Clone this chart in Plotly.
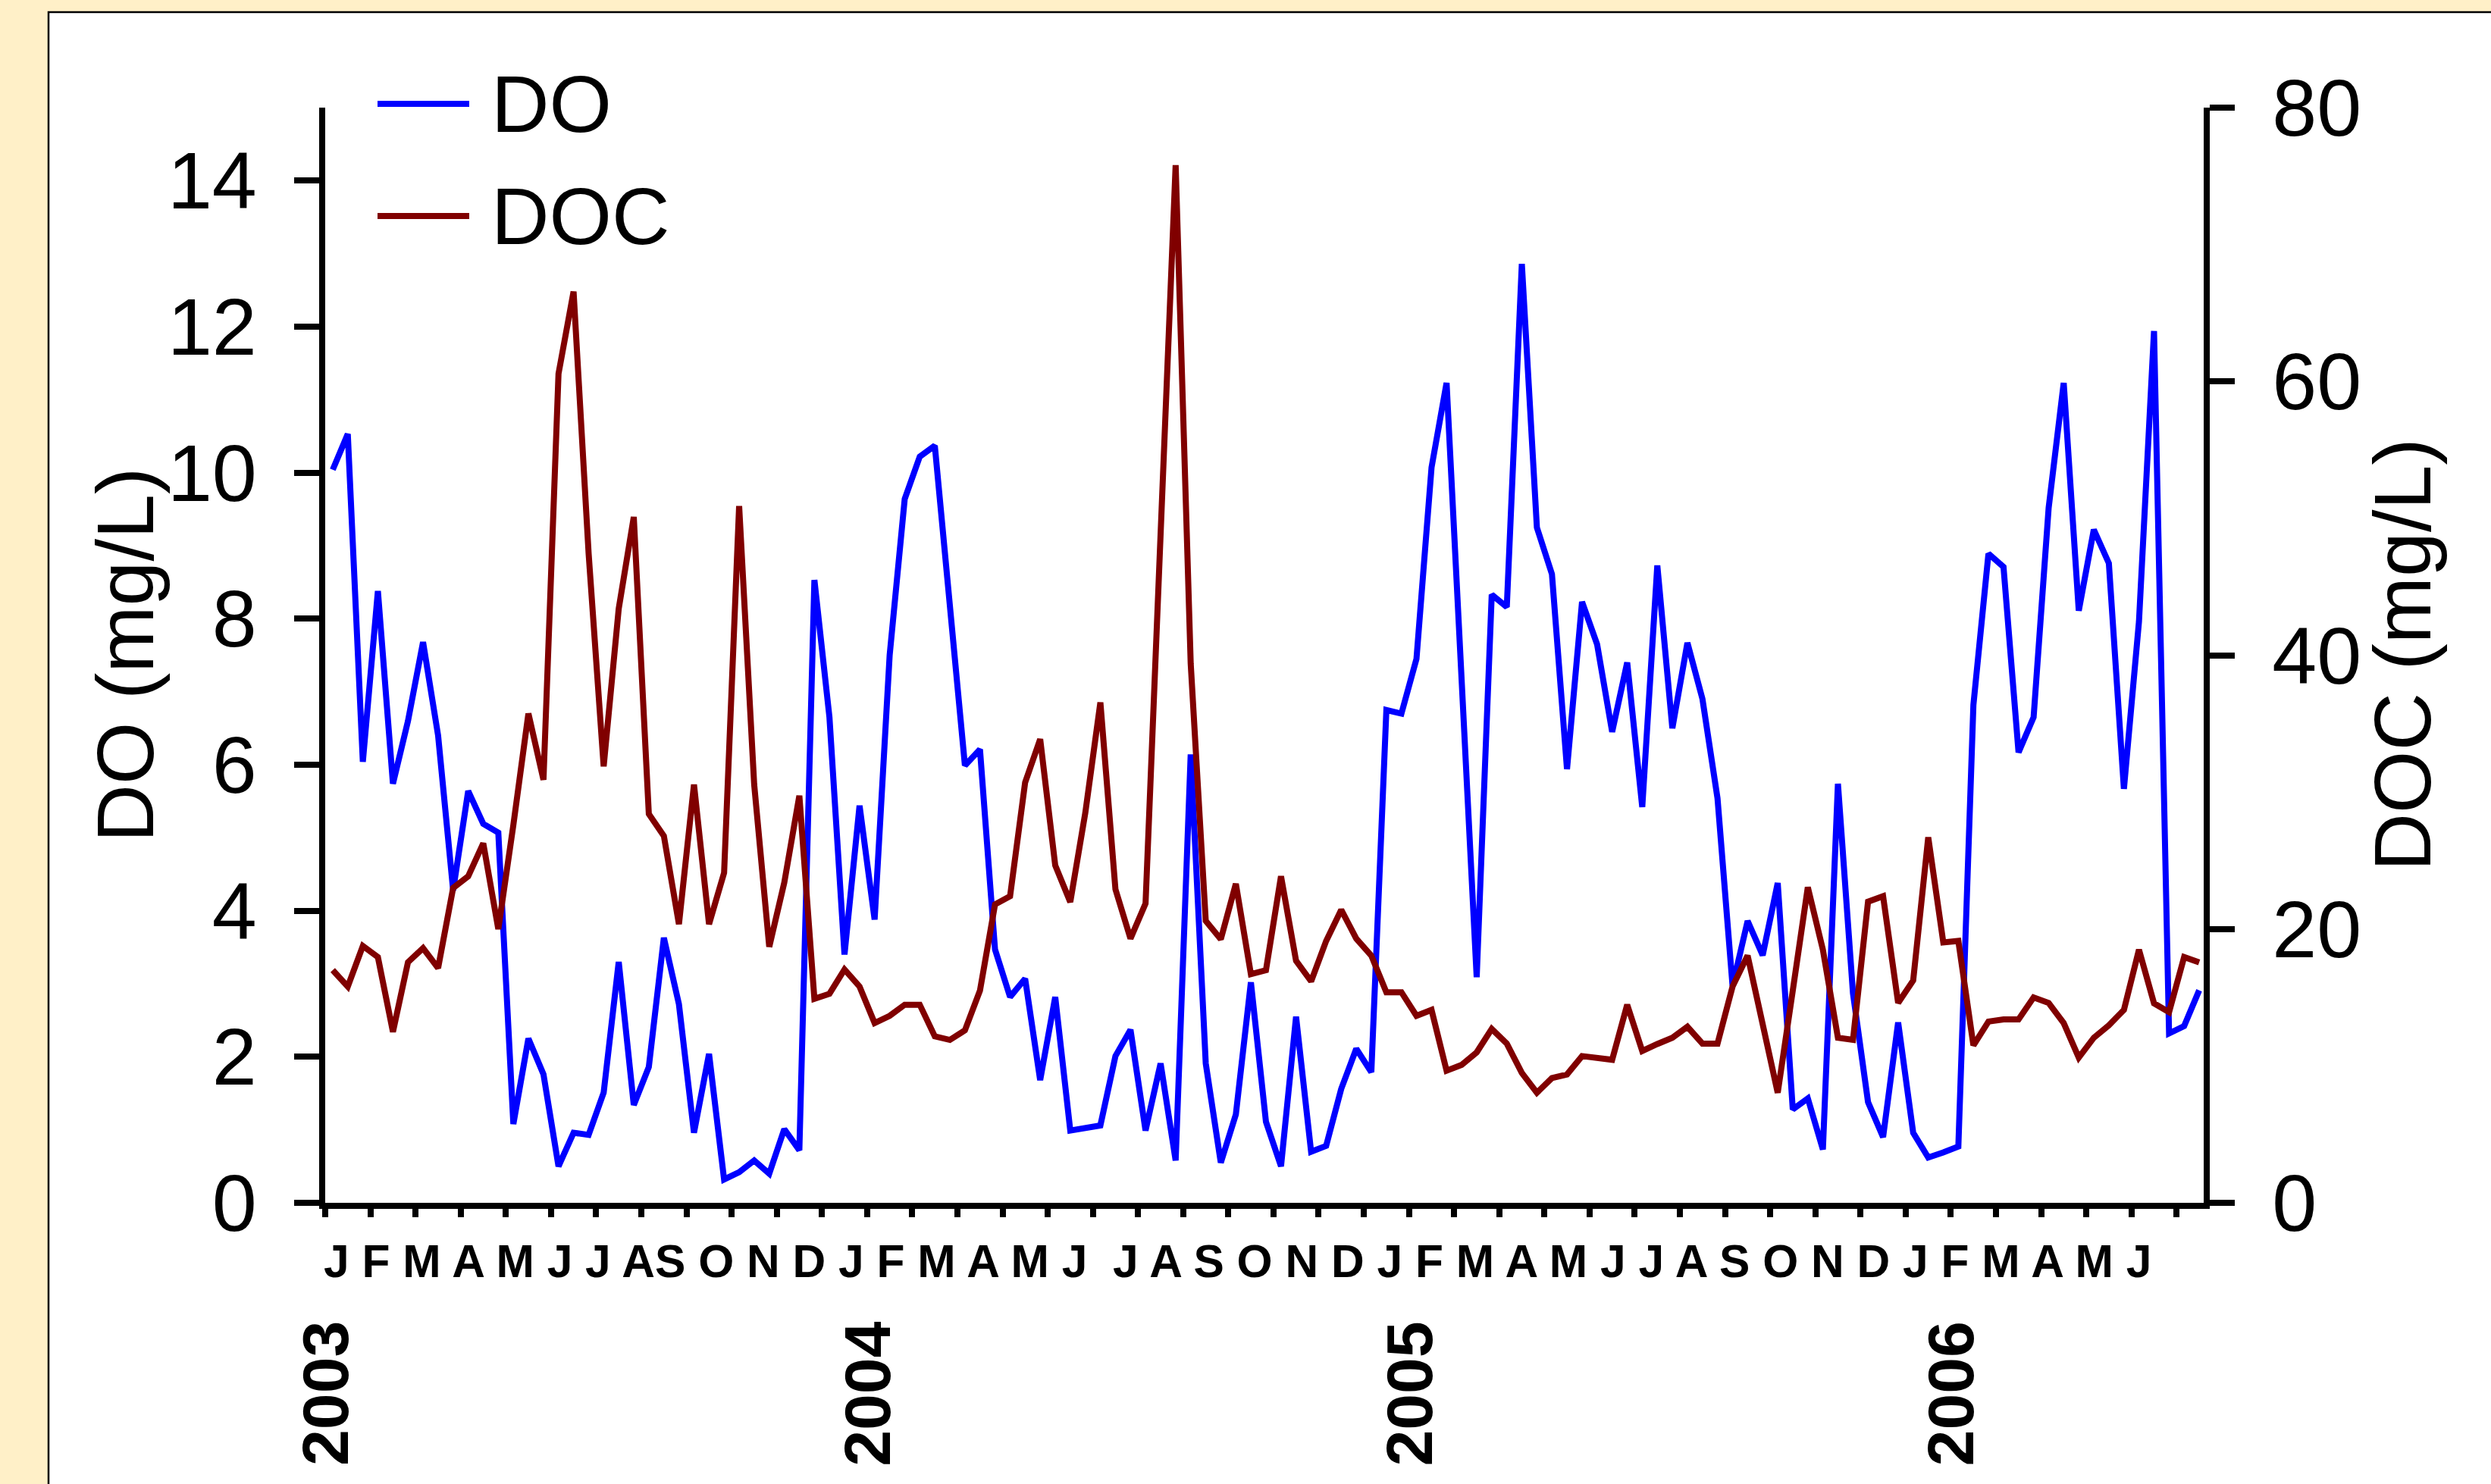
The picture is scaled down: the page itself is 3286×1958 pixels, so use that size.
import plotly.graph_objects as go

# Dissolved oxygen and dissolved organic carbon, sampled three times a month
# (dekads) from January 2003 to June 2006.
do_mg_l = [
    10.04, 10.53, 6.04, 8.38, 5.74, 6.60, 7.68, 6.40, 4.28, 5.64, 5.19, 5.07,
    1.08, 2.25, 1.76, 0.50, 0.96, 0.93, 1.51, 3.30, 1.34, 1.86, 3.63, 2.72,
    0.96, 2.04, 0.32, 0.42, 0.58, 0.40, 1.01, 0.72, 8.53, 6.65, 3.40, 5.44,
    3.88, 7.50, 9.64, 10.22, 10.37, 8.16, 5.99, 6.21, 3.47, 2.82, 3.07, 1.68,
    2.82, 0.99, 1.02, 1.06, 2.01, 2.37, 0.99, 1.91, 0.58, 6.14, 1.91, 0.55,
    1.21, 3.02, 1.11, 0.50, 2.55, 0.70, 0.78, 1.56, 2.11, 1.79, 6.75, 6.70,
    7.45, 10.07, 11.23, 7.15, 3.09, 8.33, 8.16, 12.86, 9.25, 8.61, 5.94, 8.23,
    7.65, 6.45, 7.40, 5.42, 8.73, 6.50, 7.67, 6.90, 5.54, 2.97, 3.86, 3.39,
    4.38, 1.28, 1.43, 0.73, 5.74, 2.87, 1.38, 0.90, 2.47, 0.96, 0.62, 0.69,
    0.77, 6.82, 8.89, 8.71, 6.17, 6.65, 9.52, 11.23, 8.11, 9.22, 8.76, 5.67,
    7.96, 11.94, 2.32, 2.42, 2.91,
]
doc_mg_l = [
    17.00, 15.80, 18.76, 17.95, 12.49, 17.58, 18.60, 17.15, 23.00, 23.85, 26.26, 19.99,
    27.60, 35.74, 30.90, 60.56, 66.56, 47.43, 31.88, 43.40, 50.10, 28.40, 26.80, 20.36,
    30.55, 20.36, 24.10, 50.90, 30.55, 18.70, 23.40, 29.74, 14.90, 15.27, 17.04, 15.80,
    13.13, 13.66, 14.47, 14.47, 12.16, 11.90, 12.60, 15.50, 21.80, 22.40, 30.70, 33.87,
    24.65, 21.97, 28.50, 36.55, 22.90, 19.30, 21.86, 48.80, 75.80, 39.40, 20.60, 19.25,
    23.30, 16.70, 16.99, 23.85, 17.68, 16.18, 19.13, 21.40, 19.30, 18.06, 15.38, 15.38,
    13.66, 14.09, 9.65, 10.07, 10.99, 12.70, 11.63, 9.49, 8.04, 9.11, 9.38, 10.72,
    10.60, 10.45, 14.47, 11.09, 11.60, 12.06, 12.86, 11.63, 11.63, 15.80, 18.06, 13.00,
    8.04, 15.50, 23.05, 18.49, 12.06, 11.90, 22.00, 22.40, 14.60, 16.24, 26.70, 19.02,
    19.13, 11.50, 13.24, 13.40, 13.40, 15.00, 14.60, 13.13, 10.61, 12.06, 12.97, 14.09,
    18.49, 14.57, 13.93, 17.95, 17.56,
]

years = ["2003", "2004", "2005", "2006"]
month_axis_text = (
    "J F M A M J J AS O N D "
    "J F M A M J\u00a0 J A S O N D "
    "J F M A M J J A S O N D "
    "J F M A M J"
)
do_ticks = [0, 2, 4, 6, 8, 10, 12, 14]
doc_ticks = [0, 20, 40, 60, 80]
do_title = "DO (mg/L)"
doc_title = "DOC (mg/L)"

# time axis in months since January 2003, each sample at the middle of its dekad
t_month = [(i + 0.5) / 3 for i in range(len(do_mg_l))]

W, H = 3286, 1958
L, R, T, B = 429, 379, 142, 371
PW, PH = W - L - R, H - T - B


def px(x):
    return (x - L) / PW


def py(y):
    return (H - B - y) / PH


FONT = "Liberation Sans, Arial, Helvetica, sans-serif"
BLUE = "#0000FF"
MAROON = "#800000"
LINE_W = 8

fig = go.Figure()
fig.add_trace(go.Scatter(x=t_month, y=do_mg_l, mode="lines", name="DO",
                         line=dict(color=BLUE, width=LINE_W), yaxis="y"))
fig.add_trace(go.Scatter(x=t_month, y=doc_mg_l, mode="lines", name="DOC",
                         line=dict(color=MAROON, width=LINE_W), yaxis="y2"))

axis_common = dict(
    showline=True, linewidth=8, linecolor="black", mirror=False,
    ticks="outside", tickwidth=8, tickcolor="black",
    showgrid=False, zeroline=False, automargin=False, fixedrange=True,
)

fig.update_layout(
    template="none",
    width=W, height=H,
    margin=dict(l=L, r=R, t=T, b=B, pad=0),
    paper_bgcolor="#FFF0C8",
    plot_bgcolor="rgba(0,0,0,0)",
    showlegend=False,
    font=dict(family=FONT, color="black", size=106),
    xaxis=dict(range=[0, 41.6], tickmode="linear", tick0=0, dtick=1,
               ticklen=11, showticklabels=False, **axis_common),
    yaxis=dict(range=[0, 15], tickmode="array", tickvals=do_ticks,
               ticklen=33, ticklabelstandoff=28,
               tickfont=dict(family=FONT, size=106, color="black"),
               **axis_common),
    yaxis2=dict(range=[0, 80], tickmode="array", tickvals=doc_ticks,
                overlaying="y", side="right", anchor="x",
                ticklen=33, ticklabelstandoff=28,
                tickfont=dict(family=FONT, size=106, color="black"),
                **axis_common),
)

# white panel with a thin black frame behind the chart
fig.add_shape(type="rect", xref="paper", yref="paper", layer="below",
              x0=px(64), x1=px(3320), y0=py(2000), y1=py(16),
              fillcolor="white", line=dict(color="black", width=2.5))

# vertical axis titles
for text, xpix in ((do_title, 164), (doc_title, 3168)):
    fig.add_annotation(text=text, xref="paper", yref="paper",
                       x=px(xpix), y=0.5, xanchor="center", yanchor="middle",
                       textangle=-90, showarrow=False,
                       font=dict(family=FONT, size=106, color="black"))

# legend drawn as long line samples with labels
for name, color, ypix in (("DO", BLUE, 137), ("DOC", MAROON, 285)):
    fig.add_shape(type="line", xref="paper", yref="paper", layer="above",
                  x0=px(498), x1=px(619), y0=py(ypix), y1=py(ypix),
                  line=dict(color=color, width=LINE_W))
    fig.add_annotation(text=name, xref="paper", yref="paper",
                       x=px(646), y=py(ypix), xanchor="left", yanchor="middle",
                       showarrow=False,
                       font=dict(family=FONT, size=106, color="black"))

# month initials under the time axis
fig.add_annotation(text=month_axis_text, xref="paper", yref="paper",
                   x=px(1632), y=py(1664), xanchor="center", yanchor="middle",
                   showarrow=False,
                   font=dict(family=FONT, size=60.5, color="black", weight="bold"))

# year labels under each January
for i, yr in enumerate(years):
    fig.add_annotation(text=yr, xref="x", yref="paper", x=12 * i, y=py(1839),
                       xanchor="center", yanchor="middle", textangle=-90,
                       showarrow=False,
                       font=dict(family=FONT, size=86, color="black", weight="bold"))

fig.write_html("out.html")
